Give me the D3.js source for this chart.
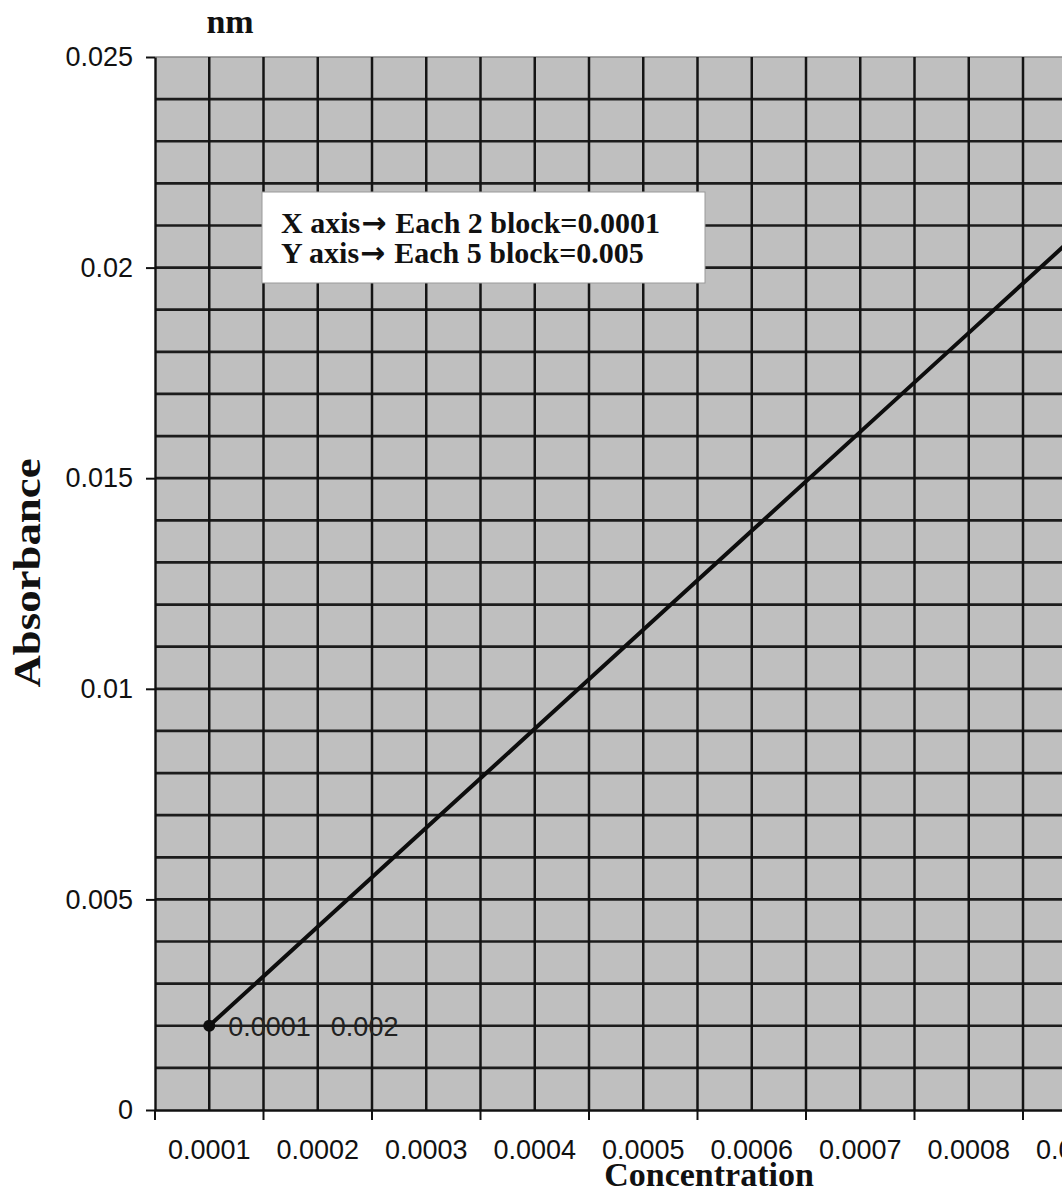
<!DOCTYPE html>
<html>
<head>
<meta charset="utf-8">
<script src="https://cdn.jsdelivr.net/npm/d3@7"></script>
<style>
  body { margin: 0; background: #fff; overflow: hidden; }
  svg { display: block; }
  .tick text { font-family: "Liberation Sans", Arial, sans-serif; fill: #111; }
  .title { font-family: "Liberation Serif", "Times New Roman", serif; font-weight: bold; fill: #111; }
</style>
</head>
<body>
<div id="chart"></div>
<script>
// donnees
var concentrations = ["0.0001", "0.0002", "0.0003", "0.0004", "0.0005", "0.0006", "0.0007", "0.0008", "0.0009"];
var absorbance = [0.002, 0.00435, 0.0067, 0.00905, 0.0114, 0.01375, 0.0161, 0.01845, 0.0208];
var yTickValues = [0, 0.005, 0.01, 0.015, 0.02, 0.025];
var yTickLabels = ["0", "0.005", "0.01", "0.015", "0.02", "0.025"];
var noteLines = [["X axis", "Each 2 block=0.0001"], ["Y axis", "Each 5 block=0.005"]];

var width = 1062, height = 1197;
var plotLeft = 155, plotTop = 57, plotBottom = 1110;
var bandW = 108.5;

var svg = d3.select("#chart").append("svg")
    .attr("width", width)
    .attr("height", height);

var x = d3.scaleBand()
    .domain(concentrations)
    .range([plotLeft, plotLeft + bandW * concentrations.length])
    .paddingInner(0).paddingOuter(0);

var y = d3.scaleLinear()
    .domain([0, 0.025])
    .range([plotBottom, plotTop]);

// fond gris
svg.append("rect")
    .attr("x", x.range()[0])
    .attr("y", y(0.025))
    .attr("width", x.range()[1] - x.range()[0])
    .attr("height", y(0) - y(0.025))
    .attr("fill", "#bfbfbf");

// bord superieur
svg.append("line")
    .attr("x1", x.range()[0]).attr("x2", x.range()[1])
    .attr("y1", y(0.025)).attr("y2", y(0.025))
    .attr("stroke", "#8a8a8a").attr("stroke-width", 1.5);

// grille horizontale (chaque 0.001)
var hTicks = y.ticks(25).filter(function(d) { return d > 0 && d < 0.025; });
svg.append("g").selectAll("line")
    .data(hTicks)
    .enter().append("line")
    .attr("x1", x.range()[0]).attr("x2", x.range()[1])
    .attr("y1", function(d) { return y(d); })
    .attr("y2", function(d) { return y(d); })
    .attr("stroke", "#1c1c1c").attr("stroke-width", 2.7);

// grille verticale (chaque demi-categorie)
var vLines = [];
concentrations.forEach(function(c) {
    vLines.push(x(c) + x.bandwidth() / 2);
    vLines.push(x(c) + x.bandwidth());
});
svg.append("g").selectAll("line")
    .data(vLines)
    .enter().append("line")
    .attr("x1", function(d) { return d; }).attr("x2", function(d) { return d; })
    .attr("y1", y(0.025)).attr("y2", y(0))
    .attr("stroke", "#141414").attr("stroke-width", 2.5);

// axe Y
var yAxis = svg.append("g")
    .attr("transform", "translate(" + plotLeft + ",0)")
    .call(d3.axisLeft(y)
        .tickValues(yTickValues)
        .tickFormat(function(d, i) { return yTickLabels[i]; })
        .tickSize(9).tickSizeOuter(0).tickPadding(13));
yAxis.select(".domain").attr("stroke", "#111").attr("stroke-width", 2.4);
yAxis.selectAll(".tick line").attr("stroke", "#111").attr("stroke-width", 2);
yAxis.selectAll(".tick text").style("font-size", "27px");

// axe X : etiquettes au centre des categories
var xAxis = svg.append("g")
    .attr("transform", "translate(0," + plotBottom + ")")
    .call(d3.axisBottom(x).tickSize(0).tickPadding(30).tickSizeOuter(0));
xAxis.select(".domain").attr("stroke", "#111").attr("stroke-width", 2.6);
xAxis.selectAll(".tick text").style("font-size", "27px");

// graduations X aux limites des categories
var bounds = [x.range()[0]].concat(concentrations.map(function(c) { return x(c) + x.bandwidth(); }));
svg.append("g").selectAll("line")
    .data(bounds)
    .enter().append("line")
    .attr("x1", function(d) { return d; }).attr("x2", function(d) { return d; })
    .attr("y1", plotBottom).attr("y2", plotBottom + 10)
    .attr("stroke", "#111").attr("stroke-width", 2);

// droite
var line = d3.line()
    .x(function(d, i) { return x(concentrations[i]) + x.bandwidth() / 2; })
    .y(function(d) { return y(d); });

svg.append("path")
    .datum(absorbance)
    .attr("d", line)
    .attr("fill", "none")
    .attr("stroke", "#0d0d0d")
    .attr("stroke-width", 4);

// premier point et son etiquette
var px = x(concentrations[0]) + x.bandwidth() / 2, py = y(absorbance[0]);
svg.append("circle")
    .attr("cx", px).attr("cy", py).attr("r", 6)
    .attr("fill", "#0d0d0d");

var lbl = svg.append("text")
    .attr("x", px + 19).attr("y", py + 10)
    .style("font-family", "Liberation Sans, Arial, sans-serif")
    .style("font-size", "27px")
    .attr("fill", "#222");
lbl.append("tspan").text(concentrations[0]);
lbl.append("tspan").attr("dx", 20).text(String(absorbance[0]));

// encadre
svg.append("rect")
    .attr("x", 262).attr("y", 192)
    .attr("width", 443).attr("height", 91)
    .attr("fill", "#fff")
    .attr("stroke", "#9a9a9a").attr("stroke-width", 1);

var notes = svg.append("g").selectAll("text")
    .data(noteLines)
    .enter().append("text")
    .attr("class", "title")
    .attr("x", 281)
    .attr("y", function(d, i) { return 233 + i * 30; })
    .style("font-size", "30px");
notes.append("tspan").text(function(d) { return d[0]; });
notes.append("tspan")
    .style("font-family", "DejaVu Sans, sans-serif")
    .style("font-weight", "bold")
    .style("font-size", "30px")
    .attr("dx", 1)
    .text("\u2192");
notes.append("tspan").attr("dx", 9).text(function(d) { return d[1]; });

// titres
svg.append("text")
    .attr("class", "title")
    .attr("x", 230).attr("y", 33)
    .attr("text-anchor", "middle")
    .style("font-size", "34px")
    .text("nm");

svg.append("text")
    .attr("class", "title")
    .attr("x", 709).attr("y", 1186)
    .attr("text-anchor", "middle")
    .style("font-size", "34px")
    .text("Concentration");

svg.append("text")
    .attr("class", "title")
    .attr("transform", "translate(40,573) rotate(-90) scale(1.18,1)")
    .attr("text-anchor", "middle")
    .style("font-size", "38px")
    .text("Absorbance");
</script>
</body>
</html>
